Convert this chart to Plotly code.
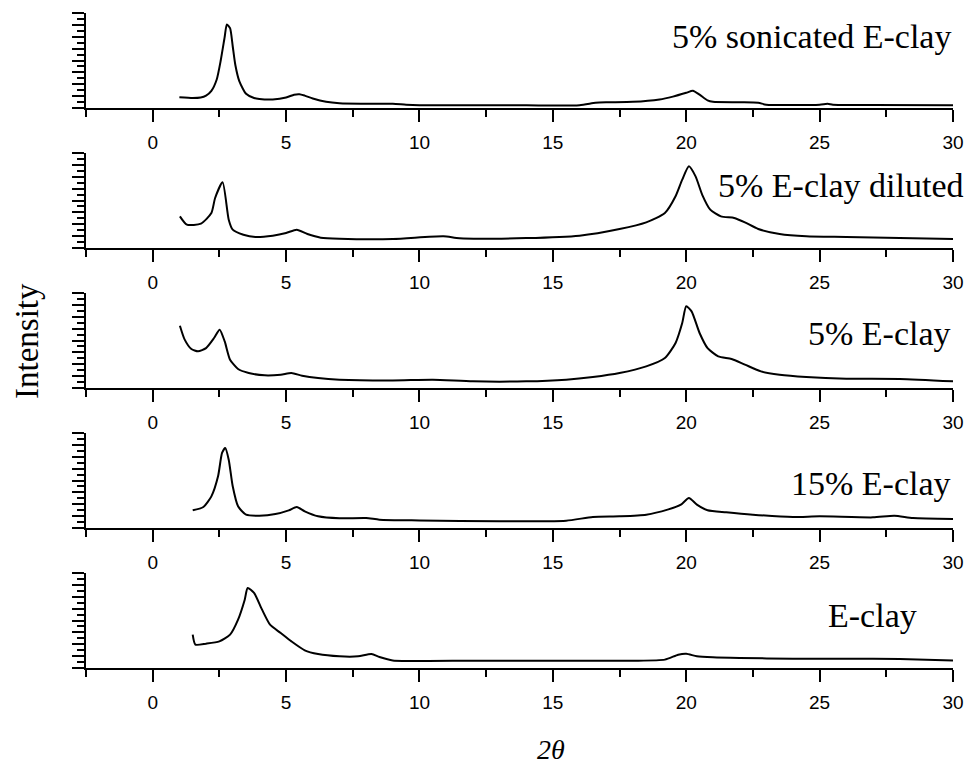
import plotly.graph_objects as go

# ---------------- data ----------------
panel_labels = ["5% sonicated E-clay", "5% E-clay diluted", "5% E-clay", "15% E-clay", "E-clay"]
x_tick_vals = [0, 5, 10, 15, 20, 25, 30]
x_tick_text = ["0", "5", "10", "15", "20", "25", "30"]

theta_sonicated = [1.0, 1.5, 1.8, 2.0, 2.2, 2.4, 2.55, 2.7, 2.78, 2.9, 3.0, 3.1, 3.25, 3.5, 3.8, 4.0,
                   4.5, 5.0, 5.3, 5.5, 5.7, 6.0, 6.5, 7.0, 8.0, 9.0, 9.5, 10.0, 12.0, 14.0, 16.0,
                   16.6, 17.0, 18.0, 19.0, 19.5, 20.0, 20.25, 20.5, 20.8, 21.0, 22.0, 22.7, 23.0,
                   25.0, 25.3, 25.5, 27.0, 30.0]
int_sonicated = [11.3, 10.5, 11, 13, 18, 30, 50, 75, 88, 84, 65, 45, 28, 15, 10.5, 9.5,
                 9, 11, 14, 14.5, 13, 10, 6.5, 5, 4.5, 4.5, 3.5, 3, 2.8, 2.8, 3,
                 5.5, 6, 6.5, 9, 12, 16, 18.2, 14, 8, 6.5, 6, 5.5, 3.5,
                 3.5, 4.5, 3.5, 3.2, 3.0]

theta_diluted = [1.02, 1.28, 1.81, 2.2, 2.34, 2.62, 2.85, 3.0, 3.4, 3.85, 4.5, 5.0, 5.4, 5.8, 6.3,
                 7.0, 9.0, 10.9, 11.5, 14.0, 16.0, 17.5, 18.5, 19.2, 19.6, 19.85, 20.1, 20.35,
                 20.6, 20.9, 21.3, 21.8, 22.2, 22.7, 23.5, 24.5, 26.0, 28.0, 30.0]
int_diluted = [33.3, 24.6, 25.6, 36.8, 52.6, 69.1, 29.8, 19.3, 14, 11.6, 13, 15.8, 19.3, 14.7, 10.9,
               9.8, 9.5, 12.3, 10.2, 10.5, 13, 20, 27, 36.8, 54.4, 71.9, 86, 75.4,
               56, 40.4, 33.3, 31.6, 27, 20, 14.7, 12.3, 11.6, 10.5, 9.5]

theta_5pct = [1.02, 1.2, 1.45, 1.7, 2.0, 2.3, 2.51, 2.7, 2.9, 3.2, 3.6, 4.2, 4.8, 5.2, 5.6, 6.2,
              7.0, 9.0, 10.5, 12.0, 14.0, 15.5, 16.5, 17.5, 18.5, 19.2, 19.6, 19.85, 20.0, 20.2,
              20.5, 20.8, 21.2, 21.7, 22.2, 22.8, 23.5, 24.5, 26.0, 28.0, 30.0]
int_5pct = [65.6, 50.9, 41, 38.6, 42, 52.6, 61.4, 49, 29.8, 20, 15.8, 13.3, 14, 15.8, 13, 10.5,
            8.8, 8, 8.8, 7, 7, 8.8, 11.6, 15.8, 22.8, 31.6, 47.4, 68.4, 86, 80.7,
            57.9, 42, 33.3, 30.5, 24.6, 17.5, 14, 11.6, 9.8, 9.5, 7]

theta_15pct = [1.5, 1.9, 2.2, 2.45, 2.6, 2.72, 2.85, 3.0, 3.2, 3.5, 4.0, 4.6, 5.1, 5.4, 5.7, 6.2,
               7.0, 8.0, 8.5, 10.0, 13.0, 15.5, 16.5, 17.5, 18.5, 19.3, 19.8, 20.1, 20.4, 20.8,
               21.5, 22.5, 24.0, 25.0, 27.0, 27.8, 28.5, 30.0]
int_15pct = [18.6, 22.1, 33.3, 54.4, 79, 84.2, 71.9, 43.9, 22.8, 14, 13, 14.7, 18.6, 22.1, 17.5, 12.3,
             10.2, 10.5, 8.8, 8, 7, 7.7, 11.6, 12.3, 14, 19.3, 24.6, 31.6, 24.6, 18.6,
             16.5, 14, 11.6, 12.3, 11.2, 13, 10.5, 9.5]

theta_eclay = [1.5, 1.6, 2.0, 2.5, 2.9, 3.2, 3.45, 3.56, 3.8, 4.1, 4.4, 4.8, 5.2, 5.7, 6.2, 7.0,
               7.7, 8.2, 8.5, 9.0, 12.0, 16.0, 18.0, 19.2, 19.7, 20.0, 20.4, 21.0, 22.0, 24.0,
               26.0, 28.0, 30.0]
int_eclay = [35.1, 24.6, 25.6, 28, 35.1, 50.9, 71.9, 84.2, 79, 61.4, 45.6, 36.8, 28, 18.6, 14.7, 12.3,
             12.3, 14.7, 11.6, 8, 7.7, 7.7, 7.7, 8.8, 14, 15, 12.3, 11.2, 10.5, 9.8,
             9.8, 9.5, 8]

series = [
    (theta_sonicated, int_sonicated),
    (theta_diluted, int_diluted),
    (theta_5pct, int_5pct),
    (theta_15pct, int_15pct),
    (theta_eclay, int_eclay),
]

# ---------------- layout geometry ----------------
W, H = 970, 764
ML, MR, MT, MB = 86, 17, 13, 96
plot_h = H - MT - MB
plot_w = W - ML - MR
panel_step = 140
panel_h = 95

serif = "Liberation Serif, Times New Roman, serif"
sans = "Liberation Sans, Arial, sans-serif"

fig = go.Figure()
layout = {}
for i, (xs, ys) in enumerate(series):
    n = "" if i == 0 else str(i + 1)
    fig.add_trace(go.Scatter(
        x=xs, y=ys, mode="lines",
        line=dict(color="black", width=2, shape="spline", smoothing=0.6),
        xaxis="x" + n, yaxis="y" + n, showlegend=False, hoverinfo="skip",
    ))
    top_px = MT + panel_step * i
    bot_px = top_px + panel_h
    dom = [(H - MB - bot_px) / plot_h, (H - MB - top_px) / plot_h]
    layout["xaxis" + n] = dict(
        domain=[0, 1], anchor="y" + n, range=[-2.5, 30],
        tickmode="array", tickvals=x_tick_vals, ticktext=x_tick_text,
        ticks="outside", ticklen=12, tickwidth=2, tickcolor="black",
        minor=dict(dtick=2.5, tick0=0, ticks="outside", ticklen=7, tickwidth=2,
                   tickcolor="black", showgrid=False),
        showline=True, linewidth=2, linecolor="black", mirror=False,
        showgrid=False, zeroline=False,
        tickfont=dict(family=sans, size=19, color="black"),
        ticklabelstandoff=4,
    )
    layout["yaxis" + n] = dict(
        domain=dom, anchor="x" + n, range=[0, 100],
        tick0=0, dtick=12.5, ticks="outside", ticklen=12, tickwidth=2, tickcolor="black",
        minor=dict(dtick=6.25, tick0=0, ticks="outside", ticklen=7, tickwidth=2,
                   tickcolor="black", showgrid=False),
        showticklabels=False,
        showline=True, linewidth=2, linecolor="black", mirror=False,
        showgrid=False, zeroline=False,
    )

label_pos = [  # (paper x of right edge, paper y of centre)
    ((953 - ML) / plot_w, (H - MB - 36) / plot_h),
    ((965 - ML) / plot_w, (H - MB - 185) / plot_h),
    ((953 - ML) / plot_w, (H - MB - 333) / plot_h),
    ((953 - ML) / plot_w, (H - MB - 483) / plot_h),
    ((919 - ML) / plot_w, (H - MB - 615) / plot_h),
]
annotations = []
for txt, (ax, ay) in zip(panel_labels, label_pos):
    annotations.append(dict(
        text=txt, x=ax, y=ay, xref="paper", yref="paper",
        xanchor="right", yanchor="middle", showarrow=False,
        font=dict(family=serif, size=34, color="black"),
    ))

annotations.append(dict(
    text="Intensity", x=(27 - ML) / plot_w, y=(H - MB - 341) / plot_h,
    xref="paper", yref="paper", xanchor="center", yanchor="middle",
    textangle=-90, showarrow=False,
    font=dict(family=serif, size=33, color="black"),
))
annotations.append(dict(
    text="<i>2θ</i>", x=(551 - ML) / plot_w, y=(H - MB - 749) / plot_h,
    xref="paper", yref="paper", xanchor="center", yanchor="middle",
    showarrow=False,
    font=dict(family=serif, size=28, color="black"),
))

fig.update_layout(
    width=W, height=H,
    margin=dict(l=ML, r=MR, t=MT, b=MB, autoexpand=False),
    paper_bgcolor="white", plot_bgcolor="white",
    annotations=annotations,
    **layout,
)

fig.write_html(
    "out.html",
    config={"displayModeBar": False},
    post_script="document.body.style.margin='0px';document.body.style.overflow='hidden';",
)
